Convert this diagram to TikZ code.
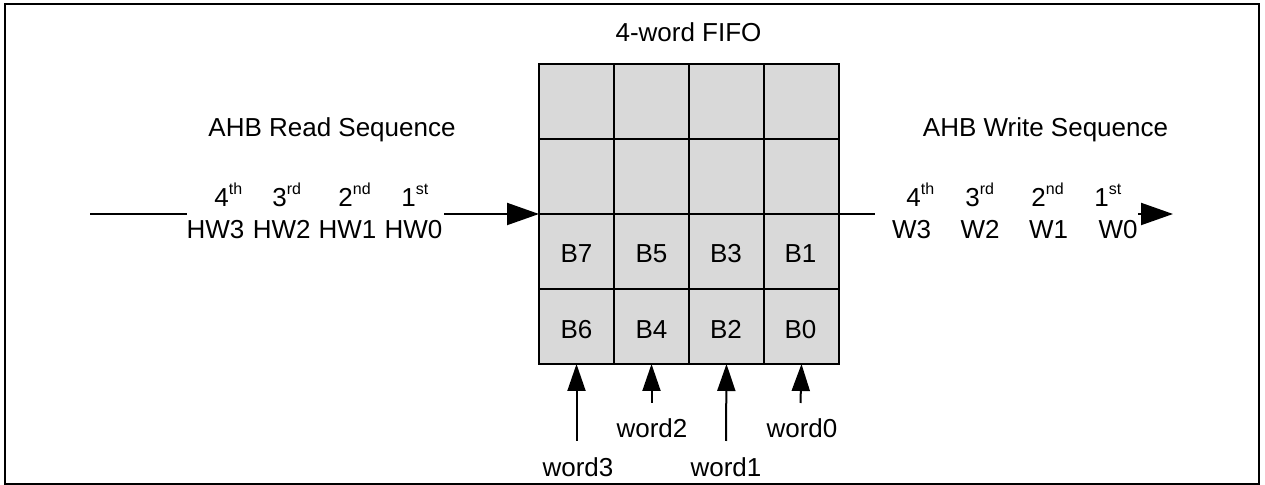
\documentclass[tikz,border=0pt]{standalone}
\usepackage{fontspec}
\setmainfont{Liberation Sans}
\usetikzlibrary{arrows.meta}
\definecolor{cellgray}{RGB}{217,217,217}
\newcommand\ordsup[1]{\raisebox{6pt}{\fontsize{8}{8}\selectfont #1}}
\tikzset{
  lbl/.style={inner sep=0pt, font=\fontsize{13}{15}\selectfont},
  cellbox/.style={draw=black, line width=1pt, fill=cellgray, minimum width=37.5pt, minimum height=37.5pt, inner sep=0pt, outer sep=0pt, anchor=north west},
  wire/.style={line width=1pt},
  harrow/.style={line width=1pt, -{Triangle[length=16pt,width=11pt]}},
  varrow/.style={line width=1pt, -{Triangle[length=13.5pt,width=9pt]}},
}
\begin{document}
\begin{tikzpicture}[x=0.5pt,y=-0.5pt]
\useasboundingbox (0,0) rectangle (1265,485);
\draw[line width=1pt] (5,4) rectangle (1259,484);

% FIFO cells
\foreach \r in {1,2,3,4}{
  \foreach \c in {1,2,3,4}{
    \node[cellbox] (c\r\c) at ({539+75*(\c-1)},{64+75*(\r-1)}) {};
  }
}
\node[lbl, anchor=base] (fifo) at (688.5,42) {4-word FIFO};

% cell texts
\node[lbl, anchor=base] (b7) at (576.5,263) {B7};
\node[lbl, anchor=base] (b5) at (651.5,263) {B5};
\node[lbl, anchor=base] (b3) at (726,263) {B3};
\node[lbl, anchor=base] (b1) at (800.5,263) {B1};
\node[lbl, anchor=base] (b6) at (576.5,339) {B6};
\node[lbl, anchor=base] (b4) at (651.5,339) {B4};
\node[lbl, anchor=base] (b2) at (726,339) {B2};
\node[lbl, anchor=base] (b0) at (800.5,339) {B0};

% titles
\node[lbl, anchor=base] (rdt) at (332,137) {AHB Read Sequence};
\node[lbl, anchor=base] (wrt) at (1045.5,137) {AHB Write Sequence};

% read sequence labels
\node[lbl, anchor=base west] (ro4) at (214,207) {4\ordsup{th}};
\node[lbl, anchor=base west] (ro3) at (272,207) {3\ordsup{rd}};
\node[lbl, anchor=base west] (ro2) at (338,207) {2\ordsup{nd}};
\node[lbl, anchor=base west] (ro1) at (401,207) {1\ordsup{st}};
\node[lbl, anchor=base] (hw3) at (215.5,239) {HW3};
\node[lbl, anchor=base] (hw2) at (281.7,239) {HW2};
\node[lbl, anchor=base] (hw1) at (347.5,239) {HW1};
\node[lbl, anchor=base] (hw0) at (413.5,239) {HW0};

% write sequence labels
\node[lbl, anchor=base west] (wo4) at (906,207) {4\ordsup{th}};
\node[lbl, anchor=base west] (wo3) at (965,207) {3\ordsup{rd}};
\node[lbl, anchor=base west] (wo2) at (1031,207) {2\ordsup{nd}};
\node[lbl, anchor=base west] (wo1) at (1094,207) {1\ordsup{st}};
\node[lbl, anchor=base] (w3) at (911.5,239) {W3};
\node[lbl, anchor=base] (w2) at (980,239) {W2};
\node[lbl, anchor=base] (w1) at (1048.5,239) {W1};
\node[lbl, anchor=base] (w0) at (1118,239) {W0};

% word labels
\node[lbl, anchor=base] (wd3) at (578,477) {word3};
\node[lbl, anchor=base] (wd2) at (652,438) {word2};
\node[lbl, anchor=base] (wd1) at (726,477) {word1};
\node[lbl, anchor=base] (wd0) at (802,438) {word0};

% connector end points
\coordinate (rin) at (90,214);
\coordinate (rgapa) at (187,214);
\coordinate (rgapb) at (444,214);
\coordinate (wgapa) at (875,214);
\coordinate (wgapb) at (1138,214);
\coordinate (wout) at (1173,214);
\coordinate (v3) at (576.5,441);
\coordinate (v2) at (651.5,403);
\coordinate (v1) at (726,441);
\coordinate (v0) at (800.5,403);

% horizontal connectors
\draw[wire] (rin) -- (rgapa);
\draw[harrow] (rgapb) -- (c31.north west);
\draw[wire] (c34.north east) -- (wgapa);
\draw[harrow] (wgapb) -- (wout);

% vertical arrows
\draw[varrow] (v3) -- (c41.south);
\draw[varrow] (v2) -- (c42.south);
\draw[varrow] (v1) -- (c43.south);
\draw[varrow] (v0) -- (c44.south);
\end{tikzpicture}
\end{document}
